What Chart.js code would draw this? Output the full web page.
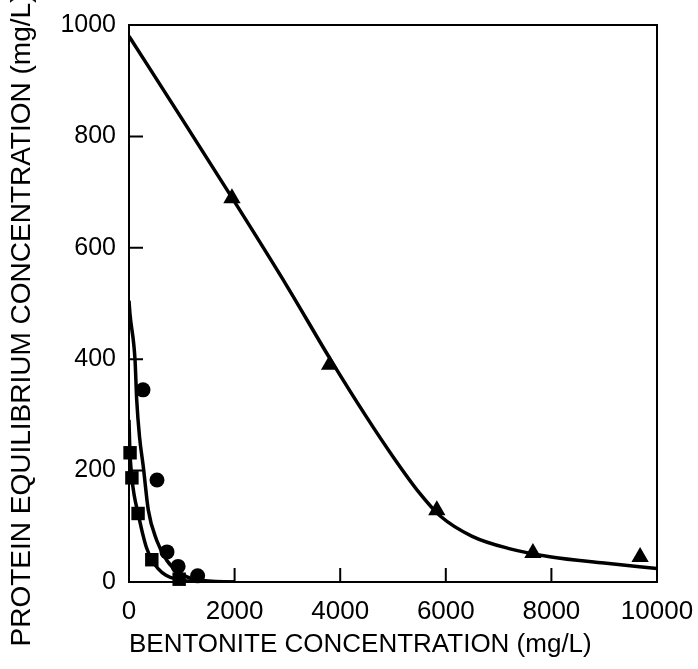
<!DOCTYPE html>
<html>
<head>
<meta charset="utf-8">
<title>Protein vs bentonite</title>
<script src="https://cdn.jsdelivr.net/npm/chart.js@4.4.1/dist/chart.umd.min.js"></script>
<style>
  html, body { margin: 0; padding: 0; background: #fff; }
  #wrap { width: 698px; height: 669px; }
</style>
</head>
<body>
<div id="wrap"><canvas id="chart" width="698" height="669"></canvas></div>
<script>
// ---- data ----
const triX = [1950, 3800, 5830, 7650, 9680];
const triY = [689, 390, 129, 52, 45];

const circX = [265, 530, 720, 930, 1300];
const circY = [345, 183, 54, 28, 11];

const sqX = [20, 55, 172, 432, 950];
const sqY = [232, 187, 123, 40, 5];

// fitted curves, traced point by point
const triFitX = [0, 1000, 1950, 3000, 3800, 4500, 5000, 5500, 5900, 6500, 7200, 8000, 9000, 10000];
const triFitY = [980, 832, 690, 530, 402, 296, 225, 160, 118, 82, 60, 45, 34, 24];

const circFitX = [0, 20, 114, 146, 200, 271, 366, 524, 714, 934, 1282, 2000];
const circFitY = [505, 480, 399, 327, 260, 207, 129, 75, 39, 18, 4, 0];

const sqFitX = [0, 15, 50, 100, 172, 250, 330, 432, 550, 700, 900, 1200, 2000];
const sqFitY = [291, 240, 190, 155, 123, 90, 62, 40, 24, 12, 5, 1, 0];

const xMarks = [2000, 4000, 6000, 8000];
const yMarks = [200, 400, 600, 800];

const xTitle = 'BENTONITE CONCENTRATION (mg/L)';
const yTitle = 'PROTEIN EQUILIBRIUM CONCENTRATION (mg/L)';

// ---- helpers ----
const pts = (xs, ys) => xs.map((x, i) => ({ x, y: ys[i] }));
const FONT = '"Liberation Sans", Arial, sans-serif';

function fitLine(xs, ys) {
    return {
        type: 'line',
        data: pts(xs, ys),
        borderColor: '#000',
        borderWidth: 3.5,
        pointRadius: 0,
        cubicInterpolationMode: 'monotone',
        fill: false,
        order: 2
    };
}
function markers(xs, ys, style, r) {
    return {
        type: 'scatter',
        data: pts(xs, ys),
        pointStyle: style,
        pointRadius: r,
        pointBackgroundColor: '#000',
        pointBorderColor: '#000',
        pointBorderWidth: 0,
        showLine: false,
        clip: false,
        order: 1
    };
}

// inner tick marks, frame and rotated y title
const framePlugin = {
    id: 'frame',
    afterDraw(chart) {
        const { ctx, chartArea: a, scales } = chart;
        ctx.save();
        ctx.strokeStyle = '#000';
        ctx.lineWidth = 2;
        ctx.strokeRect(a.left, a.top, a.right - a.left, a.bottom - a.top);
        ctx.beginPath();
        xMarks.forEach(v => {
            const px = scales.x.getPixelForValue(v);
            ctx.moveTo(px, a.bottom); ctx.lineTo(px, a.bottom - 14);
        });
        yMarks.forEach(v => {
            const py = scales.y.getPixelForValue(v);
            ctx.moveTo(a.left, py); ctx.lineTo(a.left + 14, py);
        });
        ctx.stroke();

        ctx.fillStyle = '#000';
        ctx.font = '28px ' + FONT;
        ctx.textAlign = 'center';
        ctx.textBaseline = 'middle';
        ctx.translate(22, 320);
        ctx.rotate(-Math.PI / 2);
        ctx.fillText(yTitle, 0, 0);
        ctx.restore();
    }
};

new Chart(document.getElementById('chart'), {
    data: {
        datasets: [
            fitLine(triFitX, triFitY),
            fitLine(circFitX, circFitY),
            fitLine(sqFitX, sqFitY),
            markers(triX, triY, 'triangle', 10),
            markers(circX, circY, 'circle', 7.5),
            markers(sqX, sqY, 'rect', 9.5)
        ]
    },
    options: {
        responsive: false,
        animation: false,
        layout: { padding: { top: 25, right: 41, bottom: 0, left: 0 } },
        plugins: { legend: { display: false }, tooltip: { enabled: false } },
        scales: {
            x: {
                type: 'linear',
                min: 0, max: 10000,
                grid: { display: false, drawTicks: false },
                border: { display: false },
                ticks: { stepSize: 2000, padding: 14, color: '#000', font: { family: FONT, size: 26 }, maxRotation: 0, callback: v => String(v) },
                title: { display: true, text: xTitle, align: 'start', color: '#000', font: { family: FONT, size: 26 }, padding: { top: 0, bottom: 9 } },
                afterFit(s) { s.height = 87; s.paddingLeft = 0; s.paddingRight = 0; }
            },
            y: {
                type: 'linear',
                min: 0, max: 1000,
                grid: { display: false, drawTicks: false },
                border: { display: false },
                ticks: { stepSize: 200, padding: 13, color: '#000', font: { family: FONT, size: 25 }, callback: v => String(v) },
                afterFit(s) { s.width = 129; s.paddingTop = 0; s.paddingBottom = 0; }
            }
        }
    },
    plugins: [framePlugin]
});
</script>
</body>
</html>
